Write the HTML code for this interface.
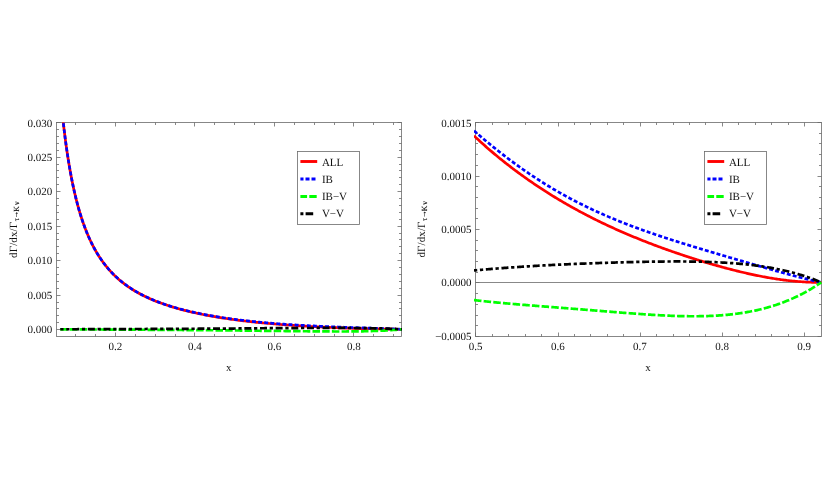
<!DOCTYPE html><html><head><meta charset="utf-8"><title>plot</title>
<style>html,body{margin:0;padding:0;background:#fff}svg{display:block}text{font-family:"Liberation Serif",serif;fill:#111;text-rendering:geometricPrecision}</style></head><body>
<svg width="830" height="495" viewBox="0 0 830 495">
<rect width="830" height="495" fill="#fff"/>
<defs><filter id="tf" x="0" y="0" width="830" height="495" filterUnits="userSpaceOnUse"><feOffset dx="0" dy="0"/></filter></defs>
<defs><clipPath id="cl"><rect x="55.0" y="122.5" width="347.5" height="214.0"/></clipPath>
<clipPath id="cr"><rect x="474.0" y="122.5" width="348.5" height="214.0"/></clipPath></defs>
<g fill="none" stroke="#6a6a6a" stroke-width="0.8">
<rect x="56.5" y="122.5" width="345.0" height="214.0"/>
<path d="M115.50,336.5v-4 M115.50,122.5v4 M194.50,336.5v-4 M194.50,122.5v4 M274.50,336.5v-4 M274.50,122.5v4 M353.50,336.5v-4 M353.50,122.5v4 M75.50,336.5v-2.5 M75.50,122.5v2.5 M95.50,336.5v-2.5 M95.50,122.5v2.5 M135.50,336.5v-2.5 M135.50,122.5v2.5 M155.50,336.5v-2.5 M155.50,122.5v2.5 M175.50,336.5v-2.5 M175.50,122.5v2.5 M214.50,336.5v-2.5 M214.50,122.5v2.5 M234.50,336.5v-2.5 M234.50,122.5v2.5 M254.50,336.5v-2.5 M254.50,122.5v2.5 M294.50,336.5v-2.5 M294.50,122.5v2.5 M314.50,336.5v-2.5 M314.50,122.5v2.5 M334.50,336.5v-2.5 M334.50,122.5v2.5 M373.50,336.5v-2.5 M373.50,122.5v2.5 M393.50,336.5v-2.5 M393.50,122.5v2.5 M56.5,329.50h4 M401.5,329.50h-4 M56.5,295.50h4 M401.5,295.50h-4 M56.5,260.50h4 M401.5,260.50h-4 M56.5,226.50h4 M401.5,226.50h-4 M56.5,191.50h4 M401.5,191.50h-4 M56.5,157.50h4 M401.5,157.50h-4 M56.5,122.50h4 M401.5,122.50h-4 M56.5,322.50h2.5 M401.5,322.50h-2.5 M56.5,315.50h2.5 M401.5,315.50h-2.5 M56.5,308.50h2.5 M401.5,308.50h-2.5 M56.5,302.50h2.5 M401.5,302.50h-2.5 M56.5,288.50h2.5 M401.5,288.50h-2.5 M56.5,281.50h2.5 M401.5,281.50h-2.5 M56.5,274.50h2.5 M401.5,274.50h-2.5 M56.5,267.50h2.5 M401.5,267.50h-2.5 M56.5,253.50h2.5 M401.5,253.50h-2.5 M56.5,246.50h2.5 M401.5,246.50h-2.5 M56.5,239.50h2.5 M401.5,239.50h-2.5 M56.5,233.50h2.5 M401.5,233.50h-2.5 M56.5,219.50h2.5 M401.5,219.50h-2.5 M56.5,212.50h2.5 M401.5,212.50h-2.5 M56.5,205.50h2.5 M401.5,205.50h-2.5 M56.5,198.50h2.5 M401.5,198.50h-2.5 M56.5,184.50h2.5 M401.5,184.50h-2.5 M56.5,177.50h2.5 M401.5,177.50h-2.5 M56.5,170.50h2.5 M401.5,170.50h-2.5 M56.5,164.50h2.5 M401.5,164.50h-2.5 M56.5,150.50h2.5 M401.5,150.50h-2.5 M56.5,143.50h2.5 M401.5,143.50h-2.5 M56.5,136.50h2.5 M401.5,136.50h-2.5 M56.5,129.50h2.5 M401.5,129.50h-2.5"/>
</g>
<g clip-path="url(#cl)" fill="none" stroke-width="2.7">
<path d="M60.30,92.89 L60.65,96.71 L60.99,100.42 L61.34,104.03 L61.69,107.54 L62.03,110.95 L62.38,114.28 L62.73,117.51 L63.07,120.66 L63.42,123.73 L63.77,126.73 L64.11,129.64 L64.46,132.49 L64.81,135.26 L65.15,137.97 L65.50,140.62 L65.84,143.20 L66.19,145.72 L66.54,148.18 L66.88,150.58 L67.23,152.93 L67.58,155.23 L67.92,157.47 L68.27,159.67 L68.62,161.82 L68.96,163.92 L69.31,165.98 L69.66,167.99 L70.00,169.97 L70.35,171.90 L70.70,173.79 L71.04,175.64 L71.39,177.46 L71.74,179.24 L72.08,180.98 L72.43,182.69 L72.78,184.37 L73.12,186.01 L73.47,187.63 L73.82,189.21 L74.16,190.76 L74.51,192.28 L74.85,193.78 L75.20,195.25 L75.55,196.69 L75.89,198.11 L76.24,199.50 L76.59,200.86 L76.93,202.21 L77.28,203.52 L77.63,204.82 L77.97,206.09 L78.32,207.35 L78.67,208.58 L79.01,209.79 L79.36,210.98 L79.71,212.15 L80.05,213.30 L80.40,214.43 L80.75,215.55 L81.09,216.65 L81.44,217.72 L81.79,218.79 L82.13,219.83 L82.48,220.86 L82.83,221.88 L83.17,222.87 L83.52,223.86 L83.86,224.82 L84.21,225.78 L84.56,226.72 L84.90,227.64 L85.25,228.55 L85.60,229.45 L85.94,230.34 L86.29,231.21 L86.64,232.07 L86.98,232.92 L87.33,233.75 L87.68,234.58 L88.02,235.39 L88.37,236.19 L88.72,236.98 L89.06,237.76 L89.41,238.53 L89.76,239.29 L90.10,240.04 L90.45,240.77 L90.80,241.50 L91.14,242.22 L91.49,242.93 L91.84,243.63 L92.18,244.32 L92.53,245.00 L92.87,245.68 L93.22,246.34 L93.57,247.00 L93.91,247.64 L94.26,248.28 L94.61,248.92 L94.95,249.54 L95.30,250.16 L95.65,250.77 L95.99,251.37 L96.34,251.96 L96.69,252.55 L97.03,253.13 L97.38,253.70 L97.73,254.27 L98.07,254.83 L98.42,255.38 L98.77,255.93 L99.11,256.47 L99.46,257.00 L99.81,257.53 L100.15,258.05 L100.50,258.56 L100.85,259.07 L101.19,259.58 L101.54,260.08 L101.88,260.57 L102.23,261.06 L102.58,261.54 L102.92,262.02 L103.27,262.49 L103.62,262.95 L103.96,263.42 L104.31,263.87 L104.66,264.32 L105.00,264.77 L105.35,265.21 L105.70,265.65 L106.04,266.08 L106.39,266.51 L106.74,266.94 L107.08,267.35 L107.43,267.77 L107.78,268.18 L108.12,268.59 L108.47,268.99 L108.82,269.39 L109.16,269.78 L109.51,270.17 L109.86,270.56 L110.20,270.94 L110.55,271.32 L110.89,271.70 L111.24,272.07 L111.59,272.44 L111.93,272.80 L112.28,273.16 L112.63,273.52 L112.97,273.87 L113.32,274.23 L113.67,274.57 L114.01,274.92 L114.36,275.26 L114.71,275.60 L115.05,275.93 L115.40,276.26 L116.84,277.61 L118.28,278.90 L119.72,280.15 L121.16,281.35 L122.60,282.51 L124.04,283.63 L125.48,284.71 L126.91,285.76 L128.35,286.77 L129.79,287.74 L131.23,288.69 L132.67,289.61 L134.11,290.50 L135.55,291.36 L136.99,292.19 L138.43,293.00 L139.87,293.79 L141.31,294.55 L142.75,295.29 L144.19,296.02 L145.63,296.72 L147.07,297.40 L148.50,298.06 L149.94,298.71 L151.38,299.34 L152.82,299.95 L154.26,300.55 L155.70,301.13 L157.14,301.70 L158.58,302.26 L160.02,302.80 L161.46,303.32 L162.90,303.84 L164.34,304.34 L165.78,304.83 L167.22,305.31 L168.66,305.78 L170.09,306.24 L171.53,306.69 L172.97,307.13 L174.41,307.56 L175.85,307.98 L177.29,308.39 L178.73,308.79 L180.17,309.19 L181.61,309.57 L183.05,309.95 L184.49,310.32 L185.93,310.68 L187.37,311.04 L188.81,311.39 L190.25,311.73 L191.68,312.06 L193.12,312.39 L194.56,312.71 L196.00,313.03 L197.44,313.34 L198.88,313.65 L200.32,313.94 L201.76,314.24 L203.20,314.52 L204.64,314.81 L206.08,315.08 L207.52,315.36 L208.96,315.62 L210.40,315.89 L211.84,316.14 L213.27,316.40 L214.71,316.65 L216.15,316.89 L217.59,317.13 L219.03,317.37 L220.47,317.60 L221.91,317.83 L223.35,318.05 L224.79,318.27 L226.23,318.48 L227.67,318.70 L229.11,318.91 L230.55,319.11 L231.99,319.31 L233.43,319.51 L234.86,319.71 L236.30,319.91 L237.74,320.10 L239.18,320.29 L240.62,320.48 L242.06,320.66 L243.50,320.84 L244.94,321.01 L246.38,321.19 L247.82,321.35 L249.26,321.52 L250.70,321.68 L252.14,321.83 L253.58,321.99 L255.02,322.14 L256.45,322.29 L257.89,322.44 L259.33,322.58 L260.77,322.72 L262.21,322.86 L263.65,323.00 L265.09,323.13 L266.53,323.26 L267.97,323.39 L269.41,323.52 L270.85,323.65 L272.29,323.77 L273.73,323.89 L275.17,324.01 L276.61,324.13 L278.04,324.25 L279.48,324.36 L280.92,324.48 L282.36,324.59 L283.80,324.70 L285.24,324.80 L286.68,324.91 L288.12,325.01 L289.56,325.12 L291.00,325.22 L292.44,325.32 L293.88,325.42 L295.32,325.51 L296.76,325.61 L298.20,325.70 L299.63,325.79 L301.07,325.88 L302.51,325.97 L303.95,326.06 L305.39,326.15 L306.83,326.23 L308.27,326.32 L309.71,326.40 L311.15,326.48 L312.59,326.56 L314.03,326.64 L315.47,326.72 L316.91,326.79 L318.35,326.87 L319.79,326.94 L321.22,327.01 L322.66,327.08 L324.10,327.15 L325.54,327.22 L326.98,327.29 L328.42,327.35 L329.86,327.42 L331.30,327.48 L332.74,327.54 L334.18,327.60 L335.62,327.66 L337.06,327.72 L338.50,327.78 L339.94,327.84 L341.38,327.89 L342.81,327.95 L344.25,328.00 L345.69,328.05 L347.13,328.10 L348.57,328.15 L350.01,328.20 L351.45,328.25 L352.89,328.30 L354.33,328.34 L355.77,328.39 L357.21,328.43 L358.65,328.47 L360.09,328.51 L361.53,328.55 L362.97,328.59 L364.40,328.63 L365.84,328.67 L367.28,328.70 L368.72,328.74 L370.16,328.77 L371.60,328.80 L373.04,328.83 L374.48,328.86 L375.92,328.89 L377.36,328.92 L378.80,328.95 L380.24,328.97 L381.68,329.00 L383.12,329.03 L384.56,329.05 L385.99,329.07 L387.43,329.09 L388.87,329.12 L390.31,329.14 L391.75,329.16 L393.19,329.18 L394.63,329.20 L396.07,329.22 L397.51,329.24 L398.95,329.26 L400.39,329.28 L401.83,329.30" stroke="#ff0000"/>
<path d="M60.30,92.88 L60.65,96.70 L60.99,100.41 L61.34,104.02 L61.69,107.53 L62.03,110.95 L62.38,114.27 L62.73,117.51 L63.07,120.66 L63.42,123.73 L63.77,126.72 L64.11,129.64 L64.46,132.48 L64.81,135.26 L65.15,137.97 L65.50,140.61 L65.84,143.19 L66.19,145.71 L66.54,148.17 L66.88,150.57 L67.23,152.92 L67.58,155.22 L67.92,157.47 L68.27,159.66 L68.62,161.81 L68.96,163.91 L69.31,165.97 L69.66,167.99 L70.00,169.96 L70.35,171.89 L70.70,173.78 L71.04,175.63 L71.39,177.45 L71.74,179.23 L72.08,180.97 L72.43,182.68 L72.78,184.36 L73.12,186.00 L73.47,187.61 L73.82,189.20 L74.16,190.75 L74.51,192.27 L74.85,193.77 L75.20,195.24 L75.55,196.68 L75.89,198.09 L76.24,199.48 L76.59,200.85 L76.93,202.19 L77.28,203.51 L77.63,204.81 L77.97,206.08 L78.32,207.33 L78.67,208.56 L79.01,209.77 L79.36,210.96 L79.71,212.13 L80.05,213.28 L80.40,214.42 L80.75,215.53 L81.09,216.63 L81.44,217.71 L81.79,218.77 L82.13,219.81 L82.48,220.84 L82.83,221.86 L83.17,222.86 L83.52,223.84 L83.86,224.81 L84.21,225.76 L84.56,226.70 L84.90,227.62 L85.25,228.53 L85.60,229.43 L85.94,230.32 L86.29,231.19 L86.64,232.05 L86.98,232.90 L87.33,233.73 L87.68,234.56 L88.02,235.37 L88.37,236.17 L88.72,236.96 L89.06,237.74 L89.41,238.51 L89.76,239.26 L90.10,240.01 L90.45,240.75 L90.80,241.48 L91.14,242.20 L91.49,242.90 L91.84,243.60 L92.18,244.29 L92.53,244.98 L92.87,245.65 L93.22,246.31 L93.57,246.97 L93.91,247.62 L94.26,248.26 L94.61,248.89 L94.95,249.51 L95.30,250.13 L95.65,250.74 L95.99,251.34 L96.34,251.93 L96.69,252.52 L97.03,253.10 L97.38,253.67 L97.73,254.23 L98.07,254.79 L98.42,255.35 L98.77,255.89 L99.11,256.43 L99.46,256.97 L99.81,257.49 L100.15,258.01 L100.50,258.53 L100.85,259.04 L101.19,259.54 L101.54,260.04 L101.88,260.53 L102.23,261.02 L102.58,261.50 L102.92,261.98 L103.27,262.45 L103.62,262.92 L103.96,263.38 L104.31,263.83 L104.66,264.28 L105.00,264.73 L105.35,265.17 L105.70,265.61 L106.04,266.04 L106.39,266.47 L106.74,266.89 L107.08,267.31 L107.43,267.73 L107.78,268.14 L108.12,268.54 L108.47,268.95 L108.82,269.34 L109.16,269.74 L109.51,270.13 L109.86,270.52 L110.20,270.90 L110.55,271.28 L110.89,271.65 L111.24,272.02 L111.59,272.39 L111.93,272.75 L112.28,273.11 L112.63,273.47 L112.97,273.83 L113.32,274.18 L113.67,274.52 L114.01,274.87 L114.36,275.21 L114.71,275.54 L115.05,275.88 L115.40,276.21 L116.84,277.55 L118.28,278.84 L119.72,280.09 L121.16,281.29 L122.60,282.45 L124.04,283.56 L125.48,284.64 L126.91,285.69 L128.35,286.70 L129.79,287.67 L131.23,288.62 L132.67,289.53 L134.11,290.42 L135.55,291.27 L136.99,292.11 L138.43,292.91 L139.87,293.70 L141.31,294.46 L142.75,295.20 L144.19,295.92 L145.63,296.62 L147.07,297.30 L148.50,297.96 L149.94,298.60 L151.38,299.23 L152.82,299.84 L154.26,300.43 L155.70,301.01 L157.14,301.58 L158.58,302.13 L160.02,302.67 L161.46,303.19 L162.90,303.71 L164.34,304.21 L165.78,304.69 L167.22,305.17 L168.66,305.64 L170.09,306.09 L171.53,306.54 L172.97,306.97 L174.41,307.40 L175.85,307.82 L177.29,308.22 L178.73,308.62 L180.17,309.01 L181.61,309.40 L183.05,309.77 L184.49,310.14 L185.93,310.50 L187.37,310.85 L188.81,311.19 L190.25,311.53 L191.68,311.86 L193.12,312.19 L194.56,312.51 L196.00,312.82 L197.44,313.12 L198.88,313.42 L200.32,313.72 L201.76,314.01 L203.20,314.29 L204.64,314.57 L206.08,314.84 L207.52,315.11 L208.96,315.38 L210.40,315.63 L211.84,315.89 L213.27,316.14 L214.71,316.38 L216.15,316.62 L217.59,316.86 L219.03,317.09 L220.47,317.31 L221.91,317.54 L223.35,317.76 L224.79,317.97 L226.23,318.18 L227.67,318.39 L229.11,318.60 L230.55,318.80 L231.99,318.99 L233.43,319.19 L234.86,319.38 L236.30,319.56 L237.74,319.75 L239.18,319.93 L240.62,320.11 L242.06,320.28 L243.50,320.45 L244.94,320.62 L246.38,320.78 L247.82,320.95 L249.26,321.10 L250.70,321.26 L252.14,321.41 L253.58,321.57 L255.02,321.71 L256.45,321.86 L257.89,322.00 L259.33,322.14 L260.77,322.28 L262.21,322.42 L263.65,322.55 L265.09,322.68 L266.53,322.81 L267.97,322.94 L269.41,323.06 L270.85,323.18 L272.29,323.30 L273.73,323.42 L275.17,323.53 L276.61,323.65 L278.04,323.76 L279.48,323.87 L280.92,323.97 L282.36,324.08 L283.80,324.18 L285.24,324.28 L286.68,324.38 L288.12,324.48 L289.56,324.58 L291.00,324.67 L292.44,324.76 L293.88,324.86 L295.32,324.94 L296.76,325.03 L298.20,325.12 L299.63,325.20 L301.07,325.29 L302.51,325.37 L303.95,325.45 L305.39,325.53 L306.83,325.60 L308.27,325.68 L309.71,325.75 L311.15,325.83 L312.59,325.90 L314.03,325.97 L315.47,326.04 L316.91,326.11 L318.35,326.18 L319.79,326.24 L321.22,326.31 L322.66,326.37 L324.10,326.43 L325.54,326.50 L326.98,326.56 L328.42,326.62 L329.86,326.68 L331.30,326.73 L332.74,326.79 L334.18,326.85 L335.62,326.90 L337.06,326.96 L338.50,327.01 L339.94,327.07 L341.38,327.12 L342.81,327.17 L344.25,327.23 L345.69,327.28 L347.13,327.33 L348.57,327.38 L350.01,327.43 L351.45,327.48 L352.89,327.53 L354.33,327.58 L355.77,327.63 L357.21,327.68 L358.65,327.73 L360.09,327.77 L361.53,327.82 L362.97,327.87 L364.40,327.92 L365.84,327.97 L367.28,328.02 L368.72,328.07 L370.16,328.11 L371.60,328.16 L373.04,328.21 L374.48,328.26 L375.92,328.31 L377.36,328.36 L378.80,328.41 L380.24,328.46 L381.68,328.51 L383.12,328.56 L384.56,328.62 L385.99,328.67 L387.43,328.72 L388.87,328.78 L390.31,328.83 L391.75,328.89 L393.19,328.94 L394.63,329.00 L396.07,329.06 L397.51,329.12 L398.95,329.18 L400.39,329.24 L401.83,329.30" stroke="#0000ff" stroke-dasharray="3.95 2.15"/>
<path d="M60.30,329.35 L60.65,329.35 L60.99,329.35 L61.34,329.35 L61.69,329.35 L62.03,329.36 L62.38,329.36 L62.73,329.36 L63.07,329.36 L63.42,329.36 L63.77,329.36 L64.11,329.36 L64.46,329.36 L64.81,329.36 L65.15,329.37 L65.50,329.37 L65.84,329.37 L66.19,329.37 L66.54,329.37 L66.88,329.37 L67.23,329.37 L67.58,329.37 L67.92,329.37 L68.27,329.38 L68.62,329.38 L68.96,329.38 L69.31,329.38 L69.66,329.38 L70.00,329.38 L70.35,329.38 L70.70,329.38 L71.04,329.39 L71.39,329.39 L71.74,329.39 L72.08,329.39 L72.43,329.39 L72.78,329.39 L73.12,329.39 L73.47,329.39 L73.82,329.40 L74.16,329.40 L74.51,329.40 L74.85,329.40 L75.20,329.40 L75.55,329.40 L75.89,329.40 L76.24,329.41 L76.59,329.41 L76.93,329.41 L77.28,329.41 L77.63,329.41 L77.97,329.41 L78.32,329.41 L78.67,329.42 L79.01,329.42 L79.36,329.42 L79.71,329.42 L80.05,329.42 L80.40,329.42 L80.75,329.42 L81.09,329.43 L81.44,329.43 L81.79,329.43 L82.13,329.43 L82.48,329.43 L82.83,329.43 L83.17,329.43 L83.52,329.44 L83.86,329.44 L84.21,329.44 L84.56,329.44 L84.90,329.44 L85.25,329.44 L85.60,329.44 L85.94,329.45 L86.29,329.45 L86.64,329.45 L86.98,329.45 L87.33,329.45 L87.68,329.45 L88.02,329.46 L88.37,329.46 L88.72,329.46 L89.06,329.46 L89.41,329.46 L89.76,329.46 L90.10,329.46 L90.45,329.47 L90.80,329.47 L91.14,329.47 L91.49,329.47 L91.84,329.47 L92.18,329.47 L92.53,329.48 L92.87,329.48 L93.22,329.48 L93.57,329.48 L93.91,329.48 L94.26,329.48 L94.61,329.49 L94.95,329.49 L95.30,329.49 L95.65,329.49 L95.99,329.49 L96.34,329.49 L96.69,329.50 L97.03,329.50 L97.38,329.50 L97.73,329.50 L98.07,329.50 L98.42,329.50 L98.77,329.51 L99.11,329.51 L99.46,329.51 L99.81,329.51 L100.15,329.51 L100.50,329.51 L100.85,329.52 L101.19,329.52 L101.54,329.52 L101.88,329.52 L102.23,329.52 L102.58,329.52 L102.92,329.53 L103.27,329.53 L103.62,329.53 L103.96,329.53 L104.31,329.53 L104.66,329.53 L105.00,329.54 L105.35,329.54 L105.70,329.54 L106.04,329.54 L106.39,329.54 L106.74,329.55 L107.08,329.55 L107.43,329.55 L107.78,329.55 L108.12,329.55 L108.47,329.55 L108.82,329.56 L109.16,329.56 L109.51,329.56 L109.86,329.56 L110.20,329.56 L110.55,329.57 L110.89,329.57 L111.24,329.57 L111.59,329.57 L111.93,329.57 L112.28,329.58 L112.63,329.58 L112.97,329.58 L113.32,329.58 L113.67,329.58 L114.01,329.58 L114.36,329.59 L114.71,329.59 L115.05,329.59 L115.40,329.59 L116.84,329.60 L118.28,329.61 L119.72,329.62 L121.16,329.62 L122.60,329.63 L124.04,329.64 L125.48,329.65 L126.91,329.66 L128.35,329.67 L129.79,329.67 L131.23,329.68 L132.67,329.69 L134.11,329.70 L135.55,329.71 L136.99,329.72 L138.43,329.73 L139.87,329.74 L141.31,329.75 L142.75,329.76 L144.19,329.76 L145.63,329.77 L147.07,329.78 L148.50,329.79 L149.94,329.80 L151.38,329.81 L152.82,329.82 L154.26,329.83 L155.70,329.84 L157.14,329.85 L158.58,329.86 L160.02,329.87 L161.46,329.88 L162.90,329.89 L164.34,329.90 L165.78,329.91 L167.22,329.92 L168.66,329.93 L170.09,329.94 L171.53,329.95 L172.97,329.96 L174.41,329.97 L175.85,329.98 L177.29,329.99 L178.73,330.00 L180.17,330.01 L181.61,330.02 L183.05,330.04 L184.49,330.05 L185.93,330.06 L187.37,330.07 L188.81,330.08 L190.25,330.09 L191.68,330.10 L193.12,330.11 L194.56,330.12 L196.00,330.13 L197.44,330.15 L198.88,330.16 L200.32,330.17 L201.76,330.18 L203.20,330.19 L204.64,330.20 L206.08,330.21 L207.52,330.23 L208.96,330.24 L210.40,330.25 L211.84,330.26 L213.27,330.27 L214.71,330.29 L216.15,330.30 L217.59,330.31 L219.03,330.32 L220.47,330.33 L221.91,330.35 L223.35,330.36 L224.79,330.37 L226.23,330.38 L227.67,330.39 L229.11,330.41 L230.55,330.42 L231.99,330.43 L233.43,330.44 L234.86,330.46 L236.30,330.48 L237.74,330.50 L239.18,330.52 L240.62,330.54 L242.06,330.56 L243.50,330.58 L244.94,330.60 L246.38,330.62 L247.82,330.64 L249.26,330.65 L250.70,330.67 L252.14,330.69 L253.58,330.70 L255.02,330.72 L256.45,330.74 L257.89,330.75 L259.33,330.77 L260.77,330.78 L262.21,330.80 L263.65,330.81 L265.09,330.83 L266.53,330.84 L267.97,330.86 L269.41,330.87 L270.85,330.89 L272.29,330.90 L273.73,330.92 L275.17,330.93 L276.61,330.95 L278.04,330.96 L279.48,330.98 L280.92,330.99 L282.36,331.01 L283.80,331.02 L285.24,331.04 L286.68,331.06 L288.12,331.07 L289.56,331.09 L291.00,331.10 L292.44,331.12 L293.88,331.13 L295.32,331.15 L296.76,331.16 L298.20,331.18 L299.63,331.19 L301.07,331.21 L302.51,331.23 L303.95,331.24 L305.39,331.26 L306.83,331.27 L308.27,331.28 L309.71,331.30 L311.15,331.31 L312.59,331.33 L314.03,331.34 L315.47,331.35 L316.91,331.37 L318.35,331.38 L319.79,331.39 L321.22,331.40 L322.66,331.41 L324.10,331.42 L325.54,331.43 L326.98,331.44 L328.42,331.45 L329.86,331.46 L331.30,331.47 L332.74,331.47 L334.18,331.48 L335.62,331.48 L337.06,331.48 L338.50,331.49 L339.94,331.49 L341.38,331.49 L342.81,331.48 L344.25,331.48 L345.69,331.48 L347.13,331.47 L348.57,331.46 L350.01,331.45 L351.45,331.44 L352.89,331.43 L354.33,331.42 L355.77,331.40 L357.21,331.38 L358.65,331.36 L360.09,331.34 L361.53,331.31 L362.97,331.28 L364.40,331.25 L365.84,331.22 L367.28,331.19 L368.72,331.15 L370.16,331.11 L371.60,331.07 L373.04,331.02 L374.48,330.97 L375.92,330.92 L377.36,330.86 L378.80,330.80 L380.24,330.74 L381.68,330.67 L383.12,330.60 L384.56,330.53 L385.99,330.45 L387.43,330.37 L388.87,330.28 L390.31,330.19 L391.75,330.10 L393.19,330.00 L394.63,329.89 L396.07,329.78 L397.51,329.67 L398.95,329.55 L400.39,329.43 L401.83,329.30" stroke="#00ff00" stroke-dasharray="7.5 2.2"/>
<path d="M60.30,329.27 L60.65,329.27 L60.99,329.26 L61.34,329.26 L61.69,329.26 L62.03,329.26 L62.38,329.26 L62.73,329.26 L63.07,329.26 L63.42,329.26 L63.77,329.26 L64.11,329.26 L64.46,329.26 L64.81,329.26 L65.15,329.26 L65.50,329.26 L65.84,329.25 L66.19,329.25 L66.54,329.25 L66.88,329.25 L67.23,329.25 L67.58,329.25 L67.92,329.25 L68.27,329.25 L68.62,329.25 L68.96,329.25 L69.31,329.25 L69.66,329.25 L70.00,329.24 L70.35,329.24 L70.70,329.24 L71.04,329.24 L71.39,329.24 L71.74,329.24 L72.08,329.24 L72.43,329.24 L72.78,329.24 L73.12,329.24 L73.47,329.24 L73.82,329.23 L74.16,329.23 L74.51,329.23 L74.85,329.23 L75.20,329.23 L75.55,329.23 L75.89,329.23 L76.24,329.23 L76.59,329.23 L76.93,329.23 L77.28,329.23 L77.63,329.22 L77.97,329.22 L78.32,329.22 L78.67,329.22 L79.01,329.22 L79.36,329.22 L79.71,329.22 L80.05,329.22 L80.40,329.22 L80.75,329.22 L81.09,329.22 L81.44,329.21 L81.79,329.21 L82.13,329.21 L82.48,329.21 L82.83,329.21 L83.17,329.21 L83.52,329.21 L83.86,329.21 L84.21,329.21 L84.56,329.21 L84.90,329.20 L85.25,329.20 L85.60,329.20 L85.94,329.20 L86.29,329.20 L86.64,329.20 L86.98,329.20 L87.33,329.20 L87.68,329.20 L88.02,329.20 L88.37,329.19 L88.72,329.19 L89.06,329.19 L89.41,329.19 L89.76,329.19 L90.10,329.19 L90.45,329.19 L90.80,329.19 L91.14,329.19 L91.49,329.18 L91.84,329.18 L92.18,329.18 L92.53,329.18 L92.87,329.18 L93.22,329.18 L93.57,329.18 L93.91,329.18 L94.26,329.18 L94.61,329.17 L94.95,329.17 L95.30,329.17 L95.65,329.17 L95.99,329.17 L96.34,329.17 L96.69,329.17 L97.03,329.17 L97.38,329.17 L97.73,329.16 L98.07,329.16 L98.42,329.16 L98.77,329.16 L99.11,329.16 L99.46,329.16 L99.81,329.16 L100.15,329.16 L100.50,329.16 L100.85,329.15 L101.19,329.15 L101.54,329.15 L101.88,329.15 L102.23,329.15 L102.58,329.15 L102.92,329.15 L103.27,329.15 L103.62,329.14 L103.96,329.14 L104.31,329.14 L104.66,329.14 L105.00,329.14 L105.35,329.14 L105.70,329.14 L106.04,329.14 L106.39,329.13 L106.74,329.13 L107.08,329.13 L107.43,329.13 L107.78,329.13 L108.12,329.13 L108.47,329.13 L108.82,329.13 L109.16,329.13 L109.51,329.12 L109.86,329.12 L110.20,329.12 L110.55,329.12 L110.89,329.12 L111.24,329.12 L111.59,329.12 L111.93,329.12 L112.28,329.11 L112.63,329.11 L112.97,329.11 L113.32,329.11 L113.67,329.11 L114.01,329.11 L114.36,329.11 L114.71,329.10 L115.05,329.10 L115.40,329.10 L116.84,329.10 L118.28,329.09 L119.72,329.09 L121.16,329.08 L122.60,329.07 L124.04,329.07 L125.48,329.06 L126.91,329.06 L128.35,329.05 L129.79,329.05 L131.23,329.04 L132.67,329.03 L134.11,329.03 L135.55,329.02 L136.99,329.02 L138.43,329.01 L139.87,329.00 L141.31,329.00 L142.75,328.99 L144.19,328.99 L145.63,328.98 L147.07,328.97 L148.50,328.97 L149.94,328.96 L151.38,328.95 L152.82,328.95 L154.26,328.94 L155.70,328.93 L157.14,328.93 L158.58,328.92 L160.02,328.91 L161.46,328.91 L162.90,328.90 L164.34,328.89 L165.78,328.89 L167.22,328.88 L168.66,328.87 L170.09,328.87 L171.53,328.86 L172.97,328.85 L174.41,328.85 L175.85,328.84 L177.29,328.83 L178.73,328.82 L180.17,328.82 L181.61,328.81 L183.05,328.80 L184.49,328.79 L185.93,328.79 L187.37,328.78 L188.81,328.77 L190.25,328.77 L191.68,328.76 L193.12,328.75 L194.56,328.74 L196.00,328.73 L197.44,328.73 L198.88,328.72 L200.32,328.71 L201.76,328.70 L203.20,328.70 L204.64,328.69 L206.08,328.68 L207.52,328.67 L208.96,328.67 L210.40,328.66 L211.84,328.65 L213.27,328.64 L214.71,328.63 L216.15,328.62 L217.59,328.62 L219.03,328.61 L220.47,328.60 L221.91,328.59 L223.35,328.58 L224.79,328.58 L226.23,328.57 L227.67,328.56 L229.11,328.55 L230.55,328.54 L231.99,328.53 L233.43,328.53 L234.86,328.52 L236.30,328.50 L237.74,328.48 L239.18,328.47 L240.62,328.45 L242.06,328.43 L243.50,328.42 L244.94,328.40 L246.38,328.39 L247.82,328.37 L249.26,328.36 L250.70,328.35 L252.14,328.33 L253.58,328.32 L255.02,328.31 L256.45,328.29 L257.89,328.28 L259.33,328.27 L260.77,328.26 L262.21,328.25 L263.65,328.23 L265.09,328.22 L266.53,328.21 L267.97,328.20 L269.41,328.19 L270.85,328.18 L272.29,328.17 L273.73,328.16 L275.17,328.15 L276.61,328.14 L278.04,328.14 L279.48,328.13 L280.92,328.12 L282.36,328.11 L283.80,328.10 L285.24,328.09 L286.68,328.09 L288.12,328.08 L289.56,328.07 L291.00,328.06 L292.44,328.06 L293.88,328.05 L295.32,328.04 L296.76,328.04 L298.20,328.03 L299.63,328.03 L301.07,328.02 L302.51,328.01 L303.95,328.01 L305.39,328.00 L306.83,328.00 L308.27,327.99 L309.71,327.99 L311.15,327.98 L312.59,327.98 L314.03,327.98 L315.47,327.97 L316.91,327.97 L318.35,327.96 L319.79,327.96 L321.22,327.96 L322.66,327.96 L324.10,327.95 L325.54,327.95 L326.98,327.95 L328.42,327.95 L329.86,327.95 L331.30,327.95 L332.74,327.95 L334.18,327.95 L335.62,327.95 L337.06,327.95 L338.50,327.95 L339.94,327.96 L341.38,327.96 L342.81,327.96 L344.25,327.97 L345.69,327.97 L347.13,327.98 L348.57,327.98 L350.01,327.99 L351.45,328.00 L352.89,328.01 L354.33,328.02 L355.77,328.03 L357.21,328.04 L358.65,328.06 L360.09,328.07 L361.53,328.09 L362.97,328.10 L364.40,328.12 L365.84,328.14 L367.28,328.16 L368.72,328.19 L370.16,328.21 L371.60,328.23 L373.04,328.26 L374.48,328.29 L375.92,328.32 L377.36,328.36 L378.80,328.39 L380.24,328.43 L381.68,328.47 L383.12,328.51 L384.56,328.55 L385.99,328.60 L387.43,328.65 L388.87,328.70 L390.31,328.75 L391.75,328.81 L393.19,328.87 L394.63,328.93 L396.07,329.00 L397.51,329.07 L398.95,329.14 L400.39,329.22 L401.83,329.30" stroke="#000" stroke-dasharray="7 2.7 3.25 2.7" stroke-dashoffset="3.75"/>
</g>
<rect x="297.5" y="151.5" width="62.0" height="73.0" fill="#fff" stroke="#6a6a6a" stroke-width="0.8"/><g fill="none" stroke-width="2.9"><path d="M300.40,161.50H317.20" stroke="#ff0000"/><path d="M300.40,179.00H315.80" stroke="#0000ff" stroke-dasharray="4 2" stroke-dashoffset="0.9"/><path d="M300.40,196.50H316.90" stroke="#00ff00" stroke-dasharray="7.4 2.2" stroke-dashoffset="0.7"/><path d="M300.40,213.70H317.20" stroke="#000" stroke-dasharray="3.0 2.2 7.6 20"/></g>
<path d="M475.5,282.5H821.5" stroke="#6a6a6a" stroke-width="0.8" fill="none"/>
<g fill="none" stroke="#6a6a6a" stroke-width="0.8">
<rect x="475.5" y="122.5" width="346.0" height="214.0"/>
<path d="M475.50,336.5v-4 M475.50,122.5v4 M558.50,336.5v-4 M558.50,122.5v4 M640.50,336.5v-4 M640.50,122.5v4 M722.50,336.5v-4 M722.50,122.5v4 M804.50,336.5v-4 M804.50,122.5v4 M492.50,336.5v-2.5 M492.50,122.5v2.5 M508.50,336.5v-2.5 M508.50,122.5v2.5 M525.50,336.5v-2.5 M525.50,122.5v2.5 M541.50,336.5v-2.5 M541.50,122.5v2.5 M574.50,336.5v-2.5 M574.50,122.5v2.5 M590.50,336.5v-2.5 M590.50,122.5v2.5 M607.50,336.5v-2.5 M607.50,122.5v2.5 M623.50,336.5v-2.5 M623.50,122.5v2.5 M656.50,336.5v-2.5 M656.50,122.5v2.5 M673.50,336.5v-2.5 M673.50,122.5v2.5 M689.50,336.5v-2.5 M689.50,122.5v2.5 M705.50,336.5v-2.5 M705.50,122.5v2.5 M738.50,336.5v-2.5 M738.50,122.5v2.5 M755.50,336.5v-2.5 M755.50,122.5v2.5 M771.50,336.5v-2.5 M771.50,122.5v2.5 M788.50,336.5v-2.5 M788.50,122.5v2.5 M475.5,336.50h4 M821.5,336.50h-4 M475.5,282.50h4 M821.5,282.50h-4 M475.5,229.50h4 M821.5,229.50h-4 M475.5,176.50h4 M821.5,176.50h-4 M475.5,122.50h4 M821.5,122.50h-4 M475.5,325.50h2.5 M821.5,325.50h-2.5 M475.5,315.50h2.5 M821.5,315.50h-2.5 M475.5,304.50h2.5 M821.5,304.50h-2.5 M475.5,293.50h2.5 M821.5,293.50h-2.5 M475.5,272.50h2.5 M821.5,272.50h-2.5 M475.5,261.50h2.5 M821.5,261.50h-2.5 M475.5,250.50h2.5 M821.5,250.50h-2.5 M475.5,240.50h2.5 M821.5,240.50h-2.5 M475.5,218.50h2.5 M821.5,218.50h-2.5 M475.5,208.50h2.5 M821.5,208.50h-2.5 M475.5,197.50h2.5 M821.5,197.50h-2.5 M475.5,186.50h2.5 M821.5,186.50h-2.5 M475.5,165.50h2.5 M821.5,165.50h-2.5 M475.5,154.50h2.5 M821.5,154.50h-2.5 M475.5,143.50h2.5 M821.5,143.50h-2.5 M475.5,133.50h2.5 M821.5,133.50h-2.5"/>
</g>
<g clip-path="url(#cr)" fill="none" stroke-width="2.7">
<path d="M474.00,135.78 L475.16,136.88 L476.32,137.96 L477.48,139.04 L478.65,140.11 L479.81,141.17 L480.97,142.23 L482.13,143.27 L483.29,144.31 L484.45,145.35 L485.62,146.37 L486.78,147.39 L487.94,148.40 L489.10,149.41 L490.26,150.41 L491.42,151.40 L492.58,152.39 L493.75,153.37 L494.91,154.34 L496.07,155.30 L497.23,156.26 L498.39,157.22 L499.55,158.17 L500.72,159.11 L501.88,160.05 L503.04,160.98 L504.20,161.90 L505.36,162.82 L506.52,163.73 L507.68,164.64 L508.85,165.54 L510.01,166.44 L511.17,167.33 L512.33,168.21 L513.49,169.09 L514.65,169.96 L515.82,170.83 L516.98,171.70 L518.14,172.56 L519.30,173.41 L520.46,174.26 L521.62,175.10 L522.78,175.94 L523.95,176.77 L525.11,177.60 L526.27,178.42 L527.43,179.24 L528.59,180.05 L529.75,180.86 L530.92,181.66 L532.08,182.46 L533.24,183.26 L534.40,184.05 L535.56,184.83 L536.72,185.61 L537.88,186.39 L539.05,187.16 L540.21,187.92 L541.37,188.68 L542.53,189.44 L543.69,190.19 L544.85,190.94 L546.02,191.68 L547.18,192.42 L548.34,193.16 L549.50,193.89 L550.66,194.62 L551.82,195.34 L552.98,196.06 L554.15,196.77 L555.31,197.48 L556.47,198.18 L557.63,198.88 L558.79,199.58 L559.95,200.27 L561.12,200.96 L562.28,201.65 L563.44,202.33 L564.60,203.00 L565.76,203.68 L566.92,204.34 L568.08,205.01 L569.25,205.67 L570.41,206.33 L571.57,206.98 L572.73,207.63 L573.89,208.27 L575.05,208.91 L576.22,209.55 L577.38,210.19 L578.54,210.82 L579.70,211.44 L580.86,212.07 L582.02,212.68 L583.18,213.30 L584.35,213.91 L585.51,214.52 L586.67,215.12 L587.83,215.73 L588.99,216.32 L590.15,216.92 L591.32,217.51 L592.48,218.09 L593.64,218.68 L594.80,219.26 L595.96,219.84 L597.12,220.41 L598.28,220.98 L599.45,221.55 L600.61,222.11 L601.77,222.67 L602.93,223.23 L604.09,223.78 L605.25,224.33 L606.42,224.88 L607.58,225.43 L608.74,225.97 L609.90,226.51 L611.06,227.04 L612.22,227.57 L613.38,228.10 L614.55,228.63 L615.71,229.15 L616.87,229.67 L618.03,230.19 L619.19,230.71 L620.35,231.22 L621.52,231.73 L622.68,232.23 L623.84,232.74 L625.00,233.24 L626.16,233.74 L627.32,234.23 L628.48,234.72 L629.65,235.21 L630.81,235.70 L631.97,236.19 L633.13,236.67 L634.29,237.15 L635.45,237.62 L636.62,238.10 L637.78,238.57 L638.94,239.04 L640.10,239.51 L641.26,239.97 L642.42,240.43 L643.58,240.89 L644.75,241.35 L645.91,241.81 L647.07,242.26 L648.23,242.71 L649.39,243.16 L650.55,243.60 L651.72,244.05 L652.88,244.49 L654.04,244.93 L655.20,245.36 L656.36,245.80 L657.52,246.23 L658.68,246.66 L659.85,247.09 L661.01,247.51 L662.17,247.94 L663.33,248.36 L664.49,248.78 L665.65,249.20 L666.82,249.61 L667.98,250.02 L669.14,250.44 L670.30,250.84 L671.46,251.25 L672.62,251.66 L673.78,252.06 L674.95,252.46 L676.11,252.86 L677.27,253.26 L678.43,253.65 L679.59,254.05 L680.75,254.44 L681.92,254.83 L683.08,255.21 L684.24,255.60 L685.40,255.98 L686.56,256.36 L687.72,256.74 L688.88,257.12 L690.05,257.50 L691.21,257.87 L692.37,258.24 L693.53,258.61 L694.69,258.98 L695.85,259.35 L697.02,259.71 L698.18,260.07 L699.34,260.43 L700.50,260.79 L701.66,261.15 L702.82,261.50 L703.98,261.85 L705.15,262.20 L706.31,262.55 L707.47,262.90 L708.63,263.24 L709.79,263.58 L710.95,263.92 L712.12,264.26 L713.28,264.60 L714.44,264.93 L715.60,265.26 L716.76,265.59 L717.92,265.92 L719.08,266.24 L720.25,266.56 L721.41,266.89 L722.57,267.20 L723.73,267.52 L724.89,267.83 L726.05,268.14 L727.22,268.45 L728.38,268.76 L729.54,269.06 L730.70,269.37 L731.86,269.67 L733.02,269.96 L734.18,270.26 L735.35,270.55 L736.51,270.84 L737.67,271.13 L738.83,271.41 L739.99,271.69 L741.15,271.97 L742.32,272.25 L743.48,272.52 L744.64,272.79 L745.80,273.06 L746.96,273.32 L748.12,273.58 L749.28,273.84 L750.45,274.10 L751.61,274.35 L752.77,274.60 L753.93,274.85 L755.09,275.09 L756.25,275.33 L757.42,275.57 L758.58,275.80 L759.74,276.03 L760.90,276.26 L762.06,276.49 L763.22,276.71 L764.38,276.92 L765.55,277.14 L766.71,277.35 L767.87,277.55 L769.03,277.76 L770.19,277.96 L771.35,278.15 L772.52,278.34 L773.68,278.53 L774.84,278.71 L776.00,278.89 L777.16,279.07 L778.32,279.24 L779.48,279.41 L780.65,279.57 L781.81,279.73 L782.97,279.89 L784.13,280.04 L785.29,280.19 L786.45,280.33 L787.62,280.47 L788.78,280.60 L789.94,280.73 L791.10,280.85 L792.26,280.97 L793.42,281.09 L794.58,281.20 L795.75,281.31 L796.91,281.41 L798.07,281.51 L799.23,281.60 L800.39,281.69 L801.55,281.77 L802.72,281.85 L803.88,281.92 L805.04,281.99 L806.20,282.05 L807.36,282.11 L808.52,282.16 L809.68,282.21 L810.85,282.25 L812.01,282.29 L813.17,282.32 L814.33,282.35 L815.49,282.37 L816.65,282.39 L817.82,282.40 L818.98,282.40 L820.14,282.40 L821.30,282.40" stroke="#ff0000"/>
<path d="M474.00,130.85 L475.16,131.85 L476.32,132.85 L477.48,133.84 L478.65,134.83 L479.81,135.82 L480.97,136.80 L482.13,137.77 L483.29,138.75 L484.45,139.72 L485.62,140.68 L486.78,141.65 L487.94,142.60 L489.10,143.56 L490.26,144.51 L491.42,145.45 L492.58,146.39 L493.75,147.33 L494.91,148.26 L496.07,149.19 L497.23,150.11 L498.39,151.03 L499.55,151.95 L500.72,152.86 L501.88,153.76 L503.04,154.66 L504.20,155.56 L505.36,156.45 L506.52,157.34 L507.68,158.22 L508.85,159.10 L510.01,159.97 L511.17,160.84 L512.33,161.70 L513.49,162.56 L514.65,163.41 L515.82,164.26 L516.98,165.10 L518.14,165.94 L519.30,166.77 L520.46,167.60 L521.62,168.42 L522.78,169.24 L523.95,170.05 L525.11,170.86 L526.27,171.67 L527.43,172.46 L528.59,173.26 L529.75,174.05 L530.92,174.83 L532.08,175.61 L533.24,176.38 L534.40,177.15 L535.56,177.92 L536.72,178.67 L537.88,179.43 L539.05,180.18 L540.21,180.92 L541.37,181.66 L542.53,182.39 L543.69,183.12 L544.85,183.85 L546.02,184.57 L547.18,185.28 L548.34,185.99 L549.50,186.70 L550.66,187.40 L551.82,188.10 L552.98,188.79 L554.15,189.47 L555.31,190.15 L556.47,190.83 L557.63,191.50 L558.79,192.17 L559.95,192.83 L561.12,193.49 L562.28,194.15 L563.44,194.79 L564.60,195.44 L565.76,196.08 L566.92,196.71 L568.08,197.35 L569.25,197.97 L570.41,198.60 L571.57,199.21 L572.73,199.83 L573.89,200.44 L575.05,201.04 L576.22,201.64 L577.38,202.24 L578.54,202.83 L579.70,203.42 L580.86,204.00 L582.02,204.58 L583.18,205.16 L584.35,205.73 L585.51,206.30 L586.67,206.86 L587.83,207.42 L588.99,207.98 L590.15,208.53 L591.32,209.08 L592.48,209.63 L593.64,210.17 L594.80,210.70 L595.96,211.24 L597.12,211.77 L598.28,212.29 L599.45,212.82 L600.61,213.34 L601.77,213.85 L602.93,214.36 L604.09,214.87 L605.25,215.38 L606.42,215.88 L607.58,216.38 L608.74,216.87 L609.90,217.37 L611.06,217.85 L612.22,218.34 L613.38,218.82 L614.55,219.30 L615.71,219.78 L616.87,220.25 L618.03,220.72 L619.19,221.19 L620.35,221.66 L621.52,222.12 L622.68,222.58 L623.84,223.03 L625.00,223.49 L626.16,223.94 L627.32,224.38 L628.48,224.83 L629.65,225.27 L630.81,225.71 L631.97,226.15 L633.13,226.59 L634.29,227.02 L635.45,227.45 L636.62,227.88 L637.78,228.30 L638.94,228.73 L640.10,229.15 L641.26,229.57 L642.42,229.98 L643.58,230.40 L644.75,230.81 L645.91,231.22 L647.07,231.63 L648.23,232.03 L649.39,232.44 L650.55,232.84 L651.72,233.24 L652.88,233.64 L654.04,234.04 L655.20,234.43 L656.36,234.83 L657.52,235.22 L658.68,235.61 L659.85,236.00 L661.01,236.38 L662.17,236.77 L663.33,237.15 L664.49,237.53 L665.65,237.91 L666.82,238.29 L667.98,238.67 L669.14,239.05 L670.30,239.42 L671.46,239.80 L672.62,240.17 L673.78,240.54 L674.95,240.91 L676.11,241.28 L677.27,241.65 L678.43,242.01 L679.59,242.38 L680.75,242.74 L681.92,243.11 L683.08,243.47 L684.24,243.83 L685.40,244.19 L686.56,244.55 L687.72,244.91 L688.88,245.27 L690.05,245.63 L691.21,245.98 L692.37,246.34 L693.53,246.69 L694.69,247.05 L695.85,247.40 L697.02,247.75 L698.18,248.10 L699.34,248.46 L700.50,248.81 L701.66,249.16 L702.82,249.51 L703.98,249.85 L705.15,250.20 L706.31,250.55 L707.47,250.90 L708.63,251.25 L709.79,251.59 L710.95,251.94 L712.12,252.28 L713.28,252.63 L714.44,252.97 L715.60,253.32 L716.76,253.66 L717.92,254.01 L719.08,254.35 L720.25,254.69 L721.41,255.04 L722.57,255.38 L723.73,255.72 L724.89,256.06 L726.05,256.41 L727.22,256.75 L728.38,257.09 L729.54,257.43 L730.70,257.77 L731.86,258.11 L733.02,258.45 L734.18,258.79 L735.35,259.13 L736.51,259.47 L737.67,259.81 L738.83,260.15 L739.99,260.49 L741.15,260.83 L742.32,261.17 L743.48,261.51 L744.64,261.85 L745.80,262.18 L746.96,262.52 L748.12,262.86 L749.28,263.20 L750.45,263.53 L751.61,263.87 L752.77,264.21 L753.93,264.54 L755.09,264.88 L756.25,265.22 L757.42,265.55 L758.58,265.89 L759.74,266.22 L760.90,266.56 L762.06,266.89 L763.22,267.22 L764.38,267.56 L765.55,267.89 L766.71,268.22 L767.87,268.55 L769.03,268.88 L770.19,269.21 L771.35,269.54 L772.52,269.87 L773.68,270.20 L774.84,270.53 L776.00,270.85 L777.16,271.18 L778.32,271.50 L779.48,271.83 L780.65,272.15 L781.81,272.47 L782.97,272.79 L784.13,273.11 L785.29,273.43 L786.45,273.75 L787.62,274.07 L788.78,274.38 L789.94,274.70 L791.10,275.01 L792.26,275.32 L793.42,275.63 L794.58,275.94 L795.75,276.24 L796.91,276.55 L798.07,276.85 L799.23,277.15 L800.39,277.45 L801.55,277.75 L802.72,278.04 L803.88,278.33 L805.04,278.62 L806.20,278.91 L807.36,279.20 L808.52,279.48 L809.68,279.76 L810.85,280.04 L812.01,280.31 L813.17,280.59 L814.33,280.86 L815.49,281.12 L816.65,281.38 L817.82,281.64 L818.98,281.90 L820.14,282.15 L821.30,282.40" stroke="#0000ff" stroke-dasharray="3.95 2.15"/>
<path d="M474.00,300.06 L475.16,300.20 L476.32,300.34 L477.48,300.48 L478.65,300.61 L479.81,300.74 L480.97,300.87 L482.13,301.00 L483.29,301.13 L484.45,301.26 L485.62,301.38 L486.78,301.50 L487.94,301.62 L489.10,301.74 L490.26,301.86 L491.42,301.98 L492.58,302.10 L493.75,302.21 L494.91,302.32 L496.07,302.44 L497.23,302.55 L498.39,302.66 L499.55,302.77 L500.72,302.88 L501.88,302.98 L503.04,303.09 L504.20,303.20 L505.36,303.30 L506.52,303.40 L507.68,303.51 L508.85,303.61 L510.01,303.71 L511.17,303.81 L512.33,303.91 L513.49,304.01 L514.65,304.11 L515.82,304.21 L516.98,304.31 L518.14,304.40 L519.30,304.50 L520.46,304.59 L521.62,304.69 L522.78,304.79 L523.95,304.88 L525.11,304.97 L526.27,305.07 L527.43,305.16 L528.59,305.26 L529.75,305.35 L530.92,305.44 L532.08,305.53 L533.24,305.63 L534.40,305.72 L535.56,305.81 L536.72,305.90 L537.88,305.99 L539.05,306.09 L540.21,306.18 L541.37,306.27 L542.53,306.36 L543.69,306.45 L544.85,306.54 L546.02,306.63 L547.18,306.72 L548.34,306.81 L549.50,306.90 L550.66,307.00 L551.82,307.09 L552.98,307.18 L554.15,307.27 L555.31,307.36 L556.47,307.45 L557.63,307.54 L558.79,307.63 L559.95,307.72 L561.12,307.81 L562.28,307.91 L563.44,308.00 L564.60,308.09 L565.76,308.18 L566.92,308.27 L568.08,308.36 L569.25,308.46 L570.41,308.55 L571.57,308.64 L572.73,308.73 L573.89,308.82 L575.05,308.92 L576.22,309.01 L577.38,309.10 L578.54,309.20 L579.70,309.29 L580.86,309.38 L582.02,309.47 L583.18,309.57 L584.35,309.66 L585.51,309.75 L586.67,309.85 L587.83,309.94 L588.99,310.03 L590.15,310.13 L591.32,310.22 L592.48,310.32 L593.64,310.41 L594.80,310.50 L595.96,310.60 L597.12,310.69 L598.28,310.79 L599.45,310.88 L600.61,310.97 L601.77,311.07 L602.93,311.16 L604.09,311.25 L605.25,311.35 L606.42,311.44 L607.58,311.53 L608.74,311.63 L609.90,311.72 L611.06,311.81 L612.22,311.91 L613.38,312.00 L614.55,312.09 L615.71,312.18 L616.87,312.27 L618.03,312.37 L619.19,312.46 L620.35,312.55 L621.52,312.64 L622.68,312.73 L623.84,312.82 L625.00,312.91 L626.16,313.00 L627.32,313.09 L628.48,313.17 L629.65,313.26 L630.81,313.35 L631.97,313.43 L633.13,313.52 L634.29,313.60 L635.45,313.69 L636.62,313.77 L637.78,313.86 L638.94,313.94 L640.10,314.02 L641.26,314.10 L642.42,314.18 L643.58,314.26 L644.75,314.34 L645.91,314.41 L647.07,314.49 L648.23,314.56 L649.39,314.64 L650.55,314.71 L651.72,314.78 L652.88,314.85 L654.04,314.92 L655.20,314.99 L656.36,315.06 L657.52,315.12 L658.68,315.19 L659.85,315.25 L661.01,315.31 L662.17,315.37 L663.33,315.43 L664.49,315.49 L665.65,315.54 L666.82,315.60 L667.98,315.65 L669.14,315.70 L670.30,315.75 L671.46,315.79 L672.62,315.84 L673.78,315.88 L674.95,315.92 L676.11,315.96 L677.27,315.99 L678.43,316.03 L679.59,316.06 L680.75,316.09 L681.92,316.12 L683.08,316.14 L684.24,316.17 L685.40,316.19 L686.56,316.20 L687.72,316.22 L688.88,316.23 L690.05,316.24 L691.21,316.25 L692.37,316.25 L693.53,316.26 L694.69,316.25 L695.85,316.25 L697.02,316.24 L698.18,316.23 L699.34,316.22 L700.50,316.20 L701.66,316.18 L702.82,316.16 L703.98,316.13 L705.15,316.10 L706.31,316.07 L707.47,316.03 L708.63,315.99 L709.79,315.95 L710.95,315.90 L712.12,315.85 L713.28,315.79 L714.44,315.73 L715.60,315.67 L716.76,315.60 L717.92,315.53 L719.08,315.45 L720.25,315.37 L721.41,315.29 L722.57,315.20 L723.73,315.10 L724.89,315.00 L726.05,314.90 L727.22,314.79 L728.38,314.68 L729.54,314.56 L730.70,314.44 L731.86,314.31 L733.02,314.18 L734.18,314.04 L735.35,313.90 L736.51,313.75 L737.67,313.59 L738.83,313.43 L739.99,313.27 L741.15,313.10 L742.32,312.92 L743.48,312.74 L744.64,312.55 L745.80,312.36 L746.96,312.16 L748.12,311.95 L749.28,311.74 L750.45,311.52 L751.61,311.29 L752.77,311.06 L753.93,310.82 L755.09,310.57 L756.25,310.32 L757.42,310.06 L758.58,309.80 L759.74,309.52 L760.90,309.24 L762.06,308.95 L763.22,308.66 L764.38,308.36 L765.55,308.05 L766.71,307.73 L767.87,307.41 L769.03,307.07 L770.19,306.73 L771.35,306.38 L772.52,306.03 L773.68,305.66 L774.84,305.29 L776.00,304.91 L777.16,304.52 L778.32,304.12 L779.48,303.71 L780.65,303.29 L781.81,302.87 L782.97,302.44 L784.13,301.99 L785.29,301.54 L786.45,301.08 L787.62,300.61 L788.78,300.13 L789.94,299.64 L791.10,299.14 L792.26,298.63 L793.42,298.11 L794.58,297.58 L795.75,297.04 L796.91,296.49 L798.07,295.93 L799.23,295.36 L800.39,294.78 L801.55,294.19 L802.72,293.59 L803.88,292.98 L805.04,292.35 L806.20,291.72 L807.36,291.07 L808.52,290.41 L809.68,289.75 L810.85,289.06 L812.01,288.37 L813.17,287.67 L814.33,286.95 L815.49,286.22 L816.65,285.48 L817.82,284.73 L818.98,283.97 L820.14,283.19 L821.30,282.40" stroke="#00ff00" stroke-dasharray="7.5 2.2"/>
<path d="M474.00,270.46 L475.16,270.36 L476.32,270.25 L477.48,270.15 L478.65,270.04 L479.81,269.94 L480.97,269.84 L482.13,269.74 L483.29,269.64 L484.45,269.54 L485.62,269.44 L486.78,269.34 L487.94,269.24 L489.10,269.15 L490.26,269.05 L491.42,268.96 L492.58,268.86 L493.75,268.77 L494.91,268.68 L496.07,268.59 L497.23,268.50 L498.39,268.41 L499.55,268.32 L500.72,268.23 L501.88,268.14 L503.04,268.05 L504.20,267.97 L505.36,267.88 L506.52,267.79 L507.68,267.71 L508.85,267.63 L510.01,267.54 L511.17,267.46 L512.33,267.38 L513.49,267.30 L514.65,267.22 L515.82,267.14 L516.98,267.06 L518.14,266.99 L519.30,266.91 L520.46,266.83 L521.62,266.76 L522.78,266.68 L523.95,266.61 L525.11,266.53 L526.27,266.46 L527.43,266.39 L528.59,266.32 L529.75,266.25 L530.92,266.18 L532.08,266.11 L533.24,266.04 L534.40,265.97 L535.56,265.90 L536.72,265.83 L537.88,265.77 L539.05,265.70 L540.21,265.64 L541.37,265.57 L542.53,265.51 L543.69,265.45 L544.85,265.38 L546.02,265.32 L547.18,265.26 L548.34,265.20 L549.50,265.14 L550.66,265.08 L551.82,265.02 L552.98,264.96 L554.15,264.90 L555.31,264.84 L556.47,264.79 L557.63,264.73 L558.79,264.67 L559.95,264.62 L561.12,264.56 L562.28,264.51 L563.44,264.45 L564.60,264.40 L565.76,264.35 L566.92,264.30 L568.08,264.24 L569.25,264.19 L570.41,264.14 L571.57,264.09 L572.73,264.04 L573.89,263.99 L575.05,263.94 L576.22,263.89 L577.38,263.84 L578.54,263.80 L579.70,263.75 L580.86,263.70 L582.02,263.66 L583.18,263.61 L584.35,263.56 L585.51,263.52 L586.67,263.47 L587.83,263.43 L588.99,263.39 L590.15,263.34 L591.32,263.30 L592.48,263.26 L593.64,263.22 L594.80,263.17 L595.96,263.13 L597.12,263.09 L598.28,263.05 L599.45,263.01 L600.61,262.97 L601.77,262.93 L602.93,262.89 L604.09,262.86 L605.25,262.82 L606.42,262.78 L607.58,262.74 L608.74,262.71 L609.90,262.67 L611.06,262.63 L612.22,262.60 L613.38,262.56 L614.55,262.53 L615.71,262.50 L616.87,262.46 L618.03,262.43 L619.19,262.40 L620.35,262.36 L621.52,262.33 L622.68,262.30 L623.84,262.27 L625.00,262.24 L626.16,262.21 L627.32,262.18 L628.48,262.15 L629.65,262.12 L630.81,262.09 L631.97,262.06 L633.13,262.04 L634.29,262.01 L635.45,261.98 L636.62,261.96 L637.78,261.93 L638.94,261.91 L640.10,261.88 L641.26,261.86 L642.42,261.84 L643.58,261.82 L644.75,261.79 L645.91,261.77 L647.07,261.75 L648.23,261.73 L649.39,261.71 L650.55,261.69 L651.72,261.67 L652.88,261.66 L654.04,261.64 L655.20,261.62 L656.36,261.61 L657.52,261.59 L658.68,261.58 L659.85,261.57 L661.01,261.55 L662.17,261.54 L663.33,261.53 L664.49,261.52 L665.65,261.51 L666.82,261.50 L667.98,261.50 L669.14,261.49 L670.30,261.48 L671.46,261.48 L672.62,261.47 L673.78,261.47 L674.95,261.47 L676.11,261.47 L677.27,261.47 L678.43,261.47 L679.59,261.47 L680.75,261.47 L681.92,261.48 L683.08,261.48 L684.24,261.49 L685.40,261.50 L686.56,261.51 L687.72,261.52 L688.88,261.53 L690.05,261.54 L691.21,261.56 L692.37,261.57 L693.53,261.59 L694.69,261.61 L695.85,261.63 L697.02,261.65 L698.18,261.67 L699.34,261.69 L700.50,261.72 L701.66,261.75 L702.82,261.78 L703.98,261.81 L705.15,261.84 L706.31,261.87 L707.47,261.91 L708.63,261.95 L709.79,261.99 L710.95,262.03 L712.12,262.07 L713.28,262.11 L714.44,262.16 L715.60,262.21 L716.76,262.26 L717.92,262.32 L719.08,262.37 L720.25,262.43 L721.41,262.49 L722.57,262.55 L723.73,262.61 L724.89,262.68 L726.05,262.75 L727.22,262.82 L728.38,262.90 L729.54,262.97 L730.70,263.05 L731.86,263.13 L733.02,263.22 L734.18,263.31 L735.35,263.40 L736.51,263.49 L737.67,263.59 L738.83,263.68 L739.99,263.79 L741.15,263.89 L742.32,264.00 L743.48,264.11 L744.64,264.23 L745.80,264.34 L746.96,264.46 L748.12,264.59 L749.28,264.72 L750.45,264.85 L751.61,264.98 L752.77,265.12 L753.93,265.26 L755.09,265.41 L756.25,265.56 L757.42,265.71 L758.58,265.87 L759.74,266.03 L760.90,266.20 L762.06,266.37 L763.22,266.55 L764.38,266.72 L765.55,266.91 L766.71,267.09 L767.87,267.29 L769.03,267.48 L770.19,267.68 L771.35,267.89 L772.52,268.10 L773.68,268.32 L774.84,268.54 L776.00,268.76 L777.16,268.99 L778.32,269.23 L779.48,269.47 L780.65,269.72 L781.81,269.97 L782.97,270.23 L784.13,270.49 L785.29,270.76 L786.45,271.03 L787.62,271.31 L788.78,271.60 L789.94,271.89 L791.10,272.19 L792.26,272.49 L793.42,272.80 L794.58,273.12 L795.75,273.44 L796.91,273.78 L798.07,274.11 L799.23,274.46 L800.39,274.81 L801.55,275.16 L802.72,275.53 L803.88,275.90 L805.04,276.28 L806.20,276.66 L807.36,277.06 L808.52,277.46 L809.68,277.87 L810.85,278.28 L812.01,278.71 L813.17,279.14 L814.33,279.58 L815.49,280.03 L816.65,280.49 L817.82,280.95 L818.98,281.43 L820.14,281.91 L821.30,282.40" stroke="#000" stroke-dasharray="7 2.7 3.25 2.7" stroke-dashoffset="3.75"/>
</g>
<rect x="704.5" y="151.5" width="62.0" height="73.0" fill="#fff" stroke="#6a6a6a" stroke-width="0.8"/><g fill="none" stroke-width="2.9"><path d="M707.40,161.50H724.20" stroke="#ff0000"/><path d="M707.40,179.00H722.80" stroke="#0000ff" stroke-dasharray="4 2" stroke-dashoffset="0.9"/><path d="M707.40,196.50H723.90" stroke="#00ff00" stroke-dasharray="7.4 2.2" stroke-dashoffset="0.7"/><path d="M707.40,213.70H724.20" stroke="#000" stroke-dasharray="3.0 2.2 7.6 20"/></g>
<g filter="url(#tf)"><text x="115.4" y="349.6" font-size="11" text-anchor="middle">0.2</text><text x="194.9" y="349.6" font-size="11" text-anchor="middle">0.4</text><text x="274.4" y="349.6" font-size="11" text-anchor="middle">0.6</text><text x="353.9" y="349.6" font-size="11" text-anchor="middle">0.8</text><text x="52.2" y="333.1" font-size="11" text-anchor="end">0.000</text><text x="52.2" y="299.1" font-size="11" text-anchor="end">0.005</text><text x="52.2" y="264.1" font-size="11" text-anchor="end">0.010</text><text x="52.2" y="230.1" font-size="11" text-anchor="end">0.015</text><text x="52.2" y="195.1" font-size="11" text-anchor="end">0.020</text><text x="52.2" y="161.1" font-size="11" text-anchor="end">0.025</text><text x="52.2" y="126.8" font-size="11" text-anchor="end">0.030</text><text x="228.8" y="370.9" font-size="11" text-anchor="middle">x</text><text transform="translate(16.7,257.9) rotate(-90)" font-size="11"><tspan letter-spacing="0.1">dΓ/dx/Γ</tspan><tspan font-size="7.8" dy="2.2" dx="0.6" stroke="#111" stroke-width="0.12">τ</tspan><tspan font-size="7.8" dy="-1.1" dx="-0.33" stroke="#111" stroke-width="0.15">→</tspan><tspan font-size="7.8" dy="1.1" dx="-0.97" stroke="#111" stroke-width="0.12">K</tspan><tspan font-size="7.8" dx="0.9" stroke="#111" stroke-width="0.12">ν</tspan></text><text x="321.90" y="165.80" font-size="11">ALL</text><text x="321.90" y="182.70" font-size="11">IB</text><text x="321.90" y="200.20" font-size="11">IB−V</text><text x="321.90" y="217.40" font-size="11">V−V</text><text x="475.6" y="349.6" font-size="11" text-anchor="middle">0.5</text><text x="557.8" y="349.6" font-size="11" text-anchor="middle">0.6</text><text x="639.9" y="349.6" font-size="11" text-anchor="middle">0.7</text><text x="722.1" y="349.6" font-size="11" text-anchor="middle">0.8</text><text x="804.2" y="349.6" font-size="11" text-anchor="middle">0.9</text><text x="471.6" y="340.1" font-size="11" text-anchor="end">−0.0005</text><text x="471.6" y="286.1" font-size="11" text-anchor="end">0.0000</text><text x="471.6" y="233.1" font-size="11" text-anchor="end">0.0005</text><text x="471.6" y="180.1" font-size="11" text-anchor="end">0.0010</text><text x="471.6" y="126.8" font-size="11" text-anchor="end">0.0015</text><text x="648.0" y="370.9" font-size="11" text-anchor="middle">x</text><text transform="translate(424.6,257.5) rotate(-90)" font-size="11"><tspan letter-spacing="0.1">dΓ/dx/Γ</tspan><tspan font-size="7.8" dy="2.2" dx="0.6" stroke="#111" stroke-width="0.12">τ</tspan><tspan font-size="7.8" dy="-1.1" dx="-0.33" stroke="#111" stroke-width="0.15">→</tspan><tspan font-size="7.8" dy="1.1" dx="-0.97" stroke="#111" stroke-width="0.12">K</tspan><tspan font-size="7.8" dx="0.9" stroke="#111" stroke-width="0.12">ν</tspan></text><text x="728.90" y="165.80" font-size="11">ALL</text><text x="728.90" y="182.70" font-size="11">IB</text><text x="728.90" y="200.20" font-size="11">IB−V</text><text x="728.90" y="217.40" font-size="11">V−V</text></g>
</svg></body></html>
